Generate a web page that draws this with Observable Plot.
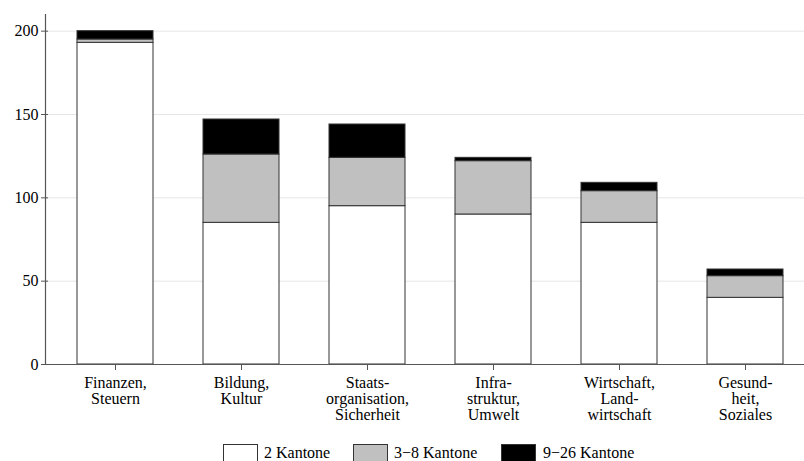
<!DOCTYPE html>
<html>
<head>
<meta charset="utf-8">
<script src="https://cdn.jsdelivr.net/npm/d3@7"></script>
<script src="https://cdn.jsdelivr.net/npm/@observablehq/plot@0.6"></script>
<style>
  body { margin: 0; background: #fff; overflow: hidden; }
  #wrap { position: relative; width: 804px; height: 461px; }
  #wrap svg text { font-family: "Liberation Serif", "Times New Roman", serif; }
  .legend { position: absolute; left: 0; top: 0; width: 804px; height: 461px; pointer-events: none;
            font-family: "Liberation Serif", "Times New Roman", serif; font-size: 16px; color: #000; }
  .sw { position: absolute; top: 444px; width: 35px; height: 22px; border: 1px solid #333; box-sizing: border-box; }
  .lb { position: absolute; top: 445px; line-height: 16px; white-space: nowrap; }
</style>
</head>
<body>
<div id="wrap"></div>
<script>
// Policy areas (x axis), with line breaks as set under the bars
const categories = [
  "Finanzen,\nSteuern",
  "Bildung,\nKultur",
  "Staats-\norganisation,\nSicherheit",
  "Infra-\nstruktur,\nUmwelt",
  "Wirtschaft,\nLand-\nwirtschaft",
  "Gesund-\nheit,\nSoziales"
];
// Number of participating cantons
const series = ["2 Kantone", "3\u22128 Kantone", "9\u221226 Kantone"];
const twoCantons      = [193, 85, 95, 90, 85, 40];
const threeToEight    = [2, 41, 29, 32, 19, 13];
const nineToTwentySix = [5, 21, 20, 2, 5, 4];
const yTicks = [0, 50, 100, 150, 200];
const fills = ["#ffffff", "#c0c0c0", "#000000"];

const valuesBySeries = [twoCantons, threeToEight, nineToTwentySix];
const rows = [];
categories.forEach((c, i) => {
  series.forEach((s, j) => rows.push({category: c, series: s, value: valuesBySeries[j][i]}));
});

const chart = Plot.plot({
  width: 804,
  height: 437,
  marginLeft: 45,
  marginRight: 0,
  marginTop: 14,
  marginBottom: 73,
  style: {fontFamily: "'Liberation Serif', 'Times New Roman', serif", fontSize: "16px", color: "#555", background: "#fff"},
  x: {domain: categories, range: [52, 808], paddingInner: 0.4, paddingOuter: 0.2, axis: null, label: null},
  y: {domain: [0, 210], axis: null, label: null},
  color: {domain: series, range: fills},
  marks: [
    Plot.gridY(yTicks.filter(d => d > 0), {stroke: "#e6e6e6", strokeOpacity: 1, strokeWidth: 1}),
    Plot.barY(rows, {x: "category", y: "value", fill: "series", stroke: "#333", strokeWidth: 1, order: null}),
    Plot.frame({anchor: "left", stroke: "#555", strokeWidth: 1.2}),
    Plot.ruleY([0], {stroke: "#555", strokeWidth: 1.2}),
    // ticks straddle the axis line slightly
    Plot.axisY({ticks: yTicks, tickSize: 7, tickPadding: 3, dx: 3, fontSize: 16, fill: "#000", stroke: "#555", label: null}),
    Plot.axisX({tickSize: 6, tickPadding: 6, fontSize: 16, lineHeight: 1, fill: "#000", stroke: "#555", label: null})
  ]
});
document.getElementById("wrap").appendChild(chart);

// Legend below the plot
const legend = document.createElement("div");
legend.className = "legend";
const swatchLeft = [223, 353, 501];
const labelLeft = [264, 394, 543];
series.forEach((s, j) => {
  const sw = document.createElement("div");
  sw.className = "sw";
  sw.style.left = swatchLeft[j] + "px";
  sw.style.background = fills[j];
  legend.appendChild(sw);
  const lb = document.createElement("div");
  lb.className = "lb";
  lb.style.left = labelLeft[j] + "px";
  lb.textContent = s;
  legend.appendChild(lb);
});
document.getElementById("wrap").appendChild(legend);
</script>
</body>
</html>
